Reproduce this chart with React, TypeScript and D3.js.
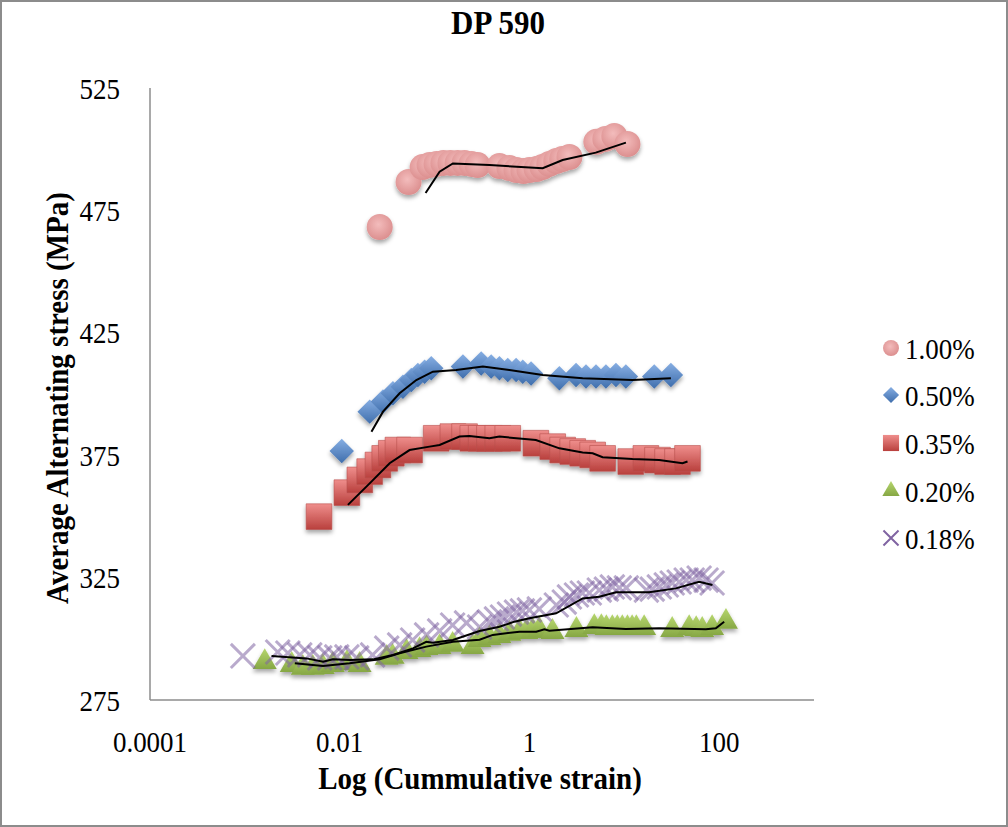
import React from "react";
import * as d3 from "d3";

const TITLE = "DP 590";
const X_TITLE = "Log (Cummulative strain)";
const Y_TITLE = "Average Alternating stress (MPa)";
const X_TICKS = [0.0001, 0.01, 1, 100];
const X_TICK_LABELS = ["0.0001", "0.01", "1", "100"];
const Y_TICKS = [275, 325, 375, 425, 475, 525];
const SERIES_NAMES = ["1.00%", "0.50%", "0.35%", "0.20%", "0.18%"];

// [cumulative strain, average alternating stress]
const s100: [number, number][] = [[0.0264,468.2],[0.0532,486.6],[0.0748,492.7],[0.0886,493.5],[0.105,494.0],[0.124,494.4],[0.147,494.4],[0.175,494.4],[0.207,494.4],[0.245,494.0],[0.284,493.5],[0.483,493.1],[0.616,492.3],[0.73,491.5],[0.865,491.1],[1.0,491.5],[1.19,491.9],[1.37,492.7],[1.62,494.0],[1.92,495.2],[2.22,496.0],[2.64,496.8],[5.07,503.0],[6.31,504.2],[7.85,505.4],[10.8,502.1]];
const s050: [number, number][] = [[0.0105,376.7],[0.0207,392.8],[0.0286,396.9],[0.0364,400.3],[0.0464,403],[0.0569,405.7],[0.0667,407.8],[0.0785,409.1],[0.0923,410.5],[0.199,411.2],[0.31,412.5],[0.395,411.2],[0.483,410.5],[0.591,409.8],[0.724,409.8],[0.851,409.1],[1.04,408.4],[2.07,406.4],[3.1,407.8],[3.95,407.1],[5.03,407.1],[6.41,407.1],[8.17,407.8],[10.4,407.1],[20.7,407.1],[31,407.8]];
const s035: [number, number][] = [[0.00605,349.9],[0.0119,359.7],[0.0163,364.9],[0.0207,368.3],[0.0253,371],[0.0298,373.7],[0.035,375.8],[0.0411,377.1],[0.0545,377.1],[0.104,381.9],[0.156,382.6],[0.207,382.6],[0.253,381.9],[0.31,381.9],[0.379,381.9],[0.464,381.9],[0.591,381.9],[1.17,379.9],[1.76,378.5],[2.24,377.1],[2.86,376.5],[3.64,375.8],[4.64,375.1],[5.91,373.7],[11.7,372.4],[16.9,373.7],[22.4,373],[28.6,372.4],[36.4,372.4],[46.4,373.7]];
const s020: [number, number][] = [[0.00162,290.5],[0.00312,289.3],[0.00408,288.1],[0.0052,288.1],[0.00662,288.5],[0.00844,289.3],[0.0119,290.1],[0.0162,289.3],[0.0313,292.2],[0.0361,292.6],[0.0507,294.6],[0.0695,295.4],[0.0824,296.2],[0.113,296.6],[0.155,297.5],[0.251,296.6],[0.298,299.5],[0.379,300.3],[0.483,301.1],[0.616,302],[0.785,302.8],[0.929,302.8],[1.08,303.2],[1.27,303.6],[1.75,302.8],[3.13,303.6],[4.83,304.8],[5.73,304.8],[6.47,304.4],[7.48,304.4],[8.44,304.4],[9.53,304.4],[10.8,304.4],[12.1,304.4],[13.4,304.4],[16.2,304.4],[32.0,303.6],[48.3,304.4],[57.3,304],[66.3,303.6],[84.3,304.4],[118,306.9]];
const s018: [number, number][] = [[0.000953,293.0],[0.00222,294.6],[0.00284,294.2],[0.00379,293.4],[0.00483,293.4],[0.00616,292.2],[0.00785,292.2],[0.0093,292.6],[0.0119,292.6],[0.0151,292.2],[0.0222,293.4],[0.0313,296.2],[0.0428,297.5],[0.0587,299.5],[0.0824,301.6],[0.113,303.2],[0.155,305.6],[0.217,306.5],[0.298,304.8],[0.379,306.9],[0.449,308.1],[0.52,308.9],[0.616,310.1],[0.73,310.9],[0.844,311.4],[1.0,311.8],[1.27,312.2],[1.92,313.8],[2.33,315],[2.64,317.1],[3.13,317.9],[3.61,318.7],[4.28,318.7],[5.45,319.9],[6.47,320.3],[7.48,321.2],[8.86,320.8],[10.5,320.8],[17.1,319.9],[19.7,320.3],[23.4,321.2],[27.7,322],[32.0,322.8],[37.9,323.2],[44.9,324],[52.0,324],[61.5,324.8],[72.9,324],[84.3,322.8]];

// moving-average trend lines
const t100: [number, number][] = [[0.0804,482.1],[0.113,490.8],[0.156,494.2],[0.379,493.5],[1.38,492.2],[2.24,495.6],[5.0,498.6],[10.4,502.7]];
const t050: [number, number][] = [[0.0216,384.6],[0.0286,392.8],[0.0428,400.3],[0.0642,405.7],[0.096,409.1],[0.169,409.8],[0.323,411.2],[0.615,409.8],[1.38,407.8],[3.64,406.4],[12.2,405.7],[31,406.4]];
const t035: [number, number][] = [[0.0122,354.7],[0.0207,363.5],[0.0336,371.7],[0.0545,377.1],[0.0886,378.5],[0.113,379.2],[0.183,382.6],[0.233,382.8],[0.379,381.9],[0.483,382.6],[1.17,381.2],[2.07,377.8],[3.64,376.1],[4.64,375.8],[5.91,374.2],[12.2,373.4],[23.3,373],[41.1,371.7],[46.4,372.4]];
const t020: [number, number][] = [[0.00336,290],[0.00668,288.9],[0.0127,290],[0.0264,291.6],[0.0428,294.1],[0.0818,296.8],[0.156,298.8],[0.298,299.6],[0.411,301.6],[0.785,302.9],[1.18,302.9],[1.44,303.9],[1.62,303.3],[4.64,304.7],[10.4,304],[23.3,304.3],[72.4,303.9],[92.3,304.3],[113,307]];
const t018: [number, number][] = [[0.00191,293],[0.00446,292],[0.00668,290.6],[0.00849,291.6],[0.0127,291.3],[0.0224,291.6],[0.0364,293.4],[0.0591,296.1],[0.0818,298.8],[0.096,298.4],[0.156,299.5],[0.298,303.2],[0.483,304.9],[0.695,307],[1.0,308.4],[1.91,310.4],[3.64,316.5],[5.45,317.2],[8.18,319],[18.3,319],[35,320.6],[61.5,323.3],[85,322]];

const W = 1008, H = 827;
const FONT = "'Liberation Serif', 'Times New Roman', serif";
const STRETCH = 1.12;

function T(props: { x: number; y: number; rot?: number; size: number; bold?: boolean; anchor?: string; children: React.ReactNode }) {
  const { x, y, rot = 0, size, bold, anchor = "start", children } = props;
  return (
    <g transform={`translate(${x},${y}) rotate(${rot}) scale(1,${STRETCH})`}>
      <text dy="0.35em" textAnchor={anchor} fontSize={size} fontWeight={bold ? "bold" : "normal"}>{children}</text>
    </g>
  );
}

export default function App() {
  const x = d3.scaleLog().domain([0.0001, 1000]).range([150, 814]);
  const y = d3.scaleLinear().domain([275, 525]).range([700, 88]);
  const line = d3.line<[number, number]>().x(d => x(d[0])).y(d => y(d[1]));

  const circle = d3.symbol(d3.symbolCircle, 530)();
  const square = d3.symbol(d3.symbolSquare, 660)();
  const diamond = d3.symbol(d3.symbolSquare, 300)();
  const tri = d3.symbol(d3.symbolTriangle, 250)();
  const cross = d3.symbol(d3.symbolX, 380)();

  const lCircle = d3.symbol(d3.symbolCircle, 200)();
  const lSquare = d3.symbol(d3.symbolSquare, 260)();
  const lDiamond = d3.symbol(d3.symbolSquare, 130)();
  const lTri = d3.symbol(d3.symbolTriangle, 130)();
  const lCross = d3.symbol(d3.symbolX, 150)();

  const series = [
    { data: s100, path: circle, fill: "url(#gCirc)", rot: 0, stroke: "none" },
    { data: s050, path: diamond, fill: "url(#gDia)", rot: 45, stroke: "none" },
    { data: s035, path: square, fill: "url(#gSq)", rot: 0, stroke: "#b8504e" },
    { data: s020, path: tri, fill: "url(#gTri)", rot: 0, stroke: "none" },
  ];
  const trends = [t100, t050, t035, t020, t018];
  const legendY = [348, 395, 443, 491, 538];
  const legendMarks = [
    { path: lCircle, fill: "url(#gCirc)", rot: 0 },
    { path: lDiamond, fill: "url(#gDia)", rot: 45 },
    { path: lSquare, fill: "url(#gSq)", rot: 0 },
    { path: lTri, fill: "url(#gTri)", rot: 0 },
  ];

  return (
    <svg width={W} height={H} style={{ position: "absolute", left: 0, top: 0, background: "#fff" }} fontFamily={FONT}>
      <defs>
        <radialGradient id="gCirc" cx="0.45" cy="0.4" r="0.6">
          <stop offset="0" stopColor="#f3bcbc" />
          <stop offset="1" stopColor="#dc8f8f" />
        </radialGradient>
        <linearGradient id="gDia" x1="0" y1="0" x2="1" y2="1">
          <stop offset="0" stopColor="#86aee3" />
          <stop offset="1" stopColor="#3f6eac" />
        </linearGradient>
        <linearGradient id="gSq" x1="0" y1="0" x2="0" y2="1">
          <stop offset="0" stopColor="#ef8e8c" />
          <stop offset="1" stopColor="#b9403d" />
        </linearGradient>
        <linearGradient id="gTri" x1="0" y1="0" x2="0" y2="1">
          <stop offset="0" stopColor="#b6d66e" />
          <stop offset="1" stopColor="#86a744" />
        </linearGradient>
        <filter id="shadow" x="-50%" y="-50%" width="200%" height="200%">
          <feDropShadow dx="0" dy="3" stdDeviation="2.2" floodColor="#000" floodOpacity="0.35" />
        </filter>
        <filter id="soft" x="-50%" y="-50%" width="200%" height="200%">
          <feGaussianBlur stdDeviation="0.7" />
        </filter>
      </defs>
      <rect x={1} y={1} width={W - 2} height={H - 2} fill="#fff" stroke="#8c8c8c" strokeWidth={2} />

      <T x={498} y={22} size={31} bold anchor="middle">{TITLE}</T>

      {/* axes */}
      <line x1={x(0.0001)} y1={y(525)} x2={x(0.0001)} y2={y(275)} stroke="#8c8c8c" strokeWidth={1.5} />
      <line x1={x(0.0001)} y1={y(275)} x2={x(1000)} y2={y(275)} stroke="#8c8c8c" strokeWidth={1.5} />

      {Y_TICKS.map(t => (
        <T key={t} x={120} y={y(t)} size={27} anchor="end">{t}</T>
      ))}
      {X_TICKS.map((t, i) => (
        <T key={t} x={x(t)} y={741} size={27} anchor="middle">{X_TICK_LABELS[i]}</T>
      ))}

      <T x={480} y={778} size={29} bold anchor="middle">{X_TITLE}</T>
      <T x={57} y={398} rot={-90} size={29} bold anchor="middle">{Y_TITLE}</T>

      {/* markers */}
      {series.map((s, si) => (
        <g key={si} filter="url(#shadow)">
          {s.data.map((d, i) => (
            <path key={i} d={s.path as string} fill={s.fill} stroke={s.stroke} strokeWidth={0.6}
              transform={`translate(${x(d[0])},${y(d[1])}) rotate(${s.rot})`} />
          ))}
        </g>
      ))}
      <g filter="url(#soft)">
        {s018.map((d, i) => (
          <path key={i} d={cross as string} fill="none" stroke="#8064a2" strokeOpacity={0.55} strokeWidth={3}
            transform={`translate(${x(d[0])},${y(d[1])})`} />
        ))}
      </g>

      {/* trend lines */}
      {trends.map((t, i) => (
        <path key={i} d={line(t) as string} fill="none" stroke="#000" strokeWidth={2} />
      ))}

      {/* legend */}
      {SERIES_NAMES.map((name, i) => (
        <g key={name} transform={`translate(891,${legendY[i]})`}>
          {i < 4 ? (
            <path d={legendMarks[i].path as string} fill={legendMarks[i].fill}
              transform={`rotate(${legendMarks[i].rot})`} />
          ) : (
            <path d={lCross as string} fill="none" stroke="#8064a2" strokeWidth={2} />
          )}
          <T x={14} y={0} size={27}>{name}</T>
        </g>
      ))}
    </svg>
  );
}
